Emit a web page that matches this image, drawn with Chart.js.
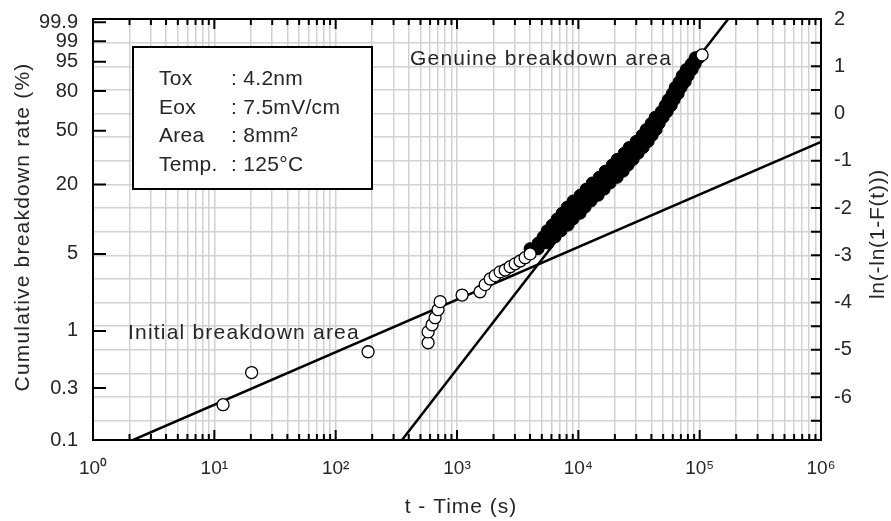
<!DOCTYPE html>
<html>
<head>
<meta charset="utf-8">
<script src="https://cdn.jsdelivr.net/npm/chart.js@4.4.1/dist/chart.umd.min.js"></script>
<style>
  html, body { margin: 0; padding: 0; background: #fff; }
</style>
</head>
<body>
<canvas id="chart" width="891" height="521"></canvas>
<script>
// axis ticks
const xMajorTicks = [1, 10, 100, 1000, 10000, 100000, 1000000];
const xTickLabels = ['10\u2070', '10\u00b9', '10\u00b2', '10\u00b3', '10\u2074', '10\u2075', '10\u2076'];
const leftTickPercents = [0.1, 0.3, 1, 5, 20, 50, 80, 95, 99, 99.9];
const leftTickLabels = ['0.1', '0.3', '1', '5', '20', '50', '80', '95', '99', '99.9'];
const rightTickValues = [-6.5, -6, -5.5, -5, -4.5, -4, -3.5, -3, -2.5, -2, -1.5, -1, -0.5, 0, 0.5, 1, 1.5, 2];

// isolated open circles (time in s, ln(-ln(1-F)))
const sparseTimes = [11.8, 20.3, 185, 578, 578, 623, 660, 698, 726, 1102, 1549, 1706, 1876, 2063, 2266, 2493, 2740, 3013, 3312, 3641, 4005, 104800];
const sparseWeibit = [-6.16, -5.48, -5.04, -4.85, -4.62, -4.47, -4.32, -4.15, -3.98, -3.84, -3.77, -3.62, -3.50, -3.43, -3.35, -3.31, -3.24, -3.18, -3.12, -3.05, -2.97, 1.24];

// dense genuine-breakdown band, read row by row (early / middle / late edge)
const bandWeibit = [-2.86, -2.74, -2.61, -2.48, -2.36, -2.23, -2.11, -1.98, -1.85, -1.73, -1.60, -1.47, -1.35, -1.22, -1.09, -0.97, -0.84, -0.72, -0.59, -0.46, -0.34, -0.21, -0.08, 0.04, 0.17, 0.29, 0.42, 0.55, 0.67, 0.80, 0.93, 1.05, 1.18];
const bandEarlyTimes = [4000, 4665, 5125, 5530, 6080, 6685, 7350, 8085, 9060, 10350, 11600, 13000, 14850, 16630, 18990, 20890, 23860, 26230, 29960, 33570, 36220, 39840, 42970, 48160, 51950, 54990, 59340, 62820, 67760, 71730, 77400, 85100, 91820];
const bandMidTimes = [4320, 5125, 5745, 6315, 7080, 7785, 8720, 9590, 10750, 12280, 13760, 15420, 17610, 19730, 22110, 24310, 27240, 29960, 33570, 36920, 39840, 42970, 46360, 50970, 54990, 58230, 62820, 66500, 71730, 75950, 81930, 88390, 95370];
const bandLateTimes = [4665, 5635, 6435, 7215, 8240, 9060, 10350, 11380, 12750, 14570, 16320, 18290, 20890, 23410, 25740, 28300, 31120, 34210, 37620, 40600, 43800, 46360, 50020, 53960, 58230, 61640, 66500, 70390, 75950, 80390, 86730, 91820, 99060];

// fitted lines
const initialFitTimes = [2.14, 1000000];
const initialFitWeibit = [-6.907, -0.60];
const genuineFitTimes = [352, 171800];
const genuineFitWeibit = [-6.907, 2.0];

// legend box text
const condLabels = ['Tox', 'Eox', 'Area', 'Temp.'];
const condValues = [': 4.2nm', ': 7.5mV/cm', ': 8mm\u00b2', ': 125\u00b0C'];

const FONT = '"Liberation Sans", Arial, sans-serif';
const TEXT = '#262626';
const GRID = '#d2d2d2';

const xTicks = [];
xMajorTicks.forEach((m, i) => {
  xTicks.push(m);
  if (i < xMajorTicks.length - 1) {
    for (let k = 2; k <= 9; k++) xTicks.push(m * k);
  }
});
const leftTickValues = leftTickPercents.map(p => Math.log(-Math.log(1 - p / 100)));

const toPoints = (xs, ys) => xs.map((x, i) => ({ x, y: ys[i] }));

function drawText(ctx, str, x, y, opts) {
  ctx.save();
  ctx.translate(x, y);
  if (opts.rotate) ctx.rotate(opts.rotate);
  ctx.font = opts.font;
  ctx.fillStyle = TEXT;
  ctx.textAlign = opts.align || 'left';
  ctx.textBaseline = opts.baseline || 'alphabetic';
  if ('letterSpacing' in ctx) ctx.letterSpacing = (opts.spacing || 0) + 'px';
  ctx.fillText(str, 0, 0);
  ctx.restore();
}

// no label overflow padding, so the plot box keeps its place
function fixVertical(width) {
  return scale => {
    scale.width = width;
    scale.paddingTop = 0;
    scale.paddingBottom = 0;
  };
}

const overlay = {
  id: 'overlay',
  afterDatasetsDraw(chart) {
    const { ctx, chartArea: a, scales } = chart;
    ctx.save();
    ctx.strokeStyle = '#000';
    ctx.lineWidth = 2;
    ctx.beginPath();
    xTicks.forEach(v => {
      const px = scales.x.getPixelForValue(v);
      const len = xMajorTicks.includes(v) ? 10 : 6;
      ctx.moveTo(px, a.bottom); ctx.lineTo(px, a.bottom - len);
      ctx.moveTo(px, a.top); ctx.lineTo(px, a.top + len);
    });
    leftTickValues.forEach(v => {
      const py = scales.y.getPixelForValue(v);
      ctx.moveTo(a.left, py); ctx.lineTo(a.left + 13, py);
    });
    rightTickValues.forEach(v => {
      const py = scales.yR.getPixelForValue(v);
      ctx.moveTo(a.right, py); ctx.lineTo(a.right - 10, py);
    });
    ctx.stroke();
    ctx.strokeRect(a.left, a.top, a.right - a.left, a.bottom - a.top);

    // conditions box
    ctx.fillStyle = '#fff';
    ctx.fillRect(133, 47, 239, 142);
    ctx.strokeRect(133, 47, 239, 142);
    condLabels.forEach((lab, i) => {
      const base = 85 + i * 28.6;
      drawText(ctx, lab, 159, base, { font: '21px ' + FONT, spacing: 0.3 });
      drawText(ctx, condValues[i], 231, base, { font: '21px ' + FONT, spacing: 0.3 });
    });

    drawText(ctx, 'Genuine breakdown area', 410, 65, { font: '21px ' + FONT, spacing: 1.2 });
    drawText(ctx, 'Initial breakdown area', 128, 339, { font: '21px ' + FONT, spacing: 1.2 });

    // axis titles
    drawText(ctx, 'Cumulative breakdown rate (%)', 23, 227,
      { font: '21px ' + FONT, spacing: 1.2, rotate: -Math.PI / 2, align: 'center', baseline: 'middle' });
    drawText(ctx, 'ln(-ln(1-F(t)))', 878, 234,
      { font: '21px ' + FONT, spacing: 0.75, rotate: -Math.PI / 2, align: 'center', baseline: 'middle' });
    drawText(ctx, 't - Time (s)', 461, 507,
      { font: '21px ' + FONT, spacing: 1, align: 'center', baseline: 'middle' });
    ctx.restore();
  }
};

const bandPoints = [
  ...toPoints(bandEarlyTimes, bandWeibit),
  ...toPoints(bandMidTimes, bandWeibit),
  ...toPoints(bandLateTimes, bandWeibit),
];

new Chart(document.getElementById('chart'), {
  type: 'scatter',
  data: {
    datasets: [
      {
        label: 'Initial fit',
        data: toPoints(initialFitTimes, initialFitWeibit),
        showLine: true, borderColor: '#000', borderWidth: 2.5, pointRadius: 0,
        xAxisID: 'x', yAxisID: 'yR', order: 3,
      },
      {
        label: 'Genuine fit',
        data: toPoints(genuineFitTimes, genuineFitWeibit),
        showLine: true, borderColor: '#000', borderWidth: 2.5, pointRadius: 0,
        xAxisID: 'x', yAxisID: 'yR', order: 3,
      },
      {
        label: 'Genuine breakdown',
        data: bandPoints,
        pointRadius: 6, pointBackgroundColor: '#000', pointBorderColor: '#000', pointBorderWidth: 1,
        xAxisID: 'x', yAxisID: 'yR', order: 2,
      },
      {
        label: 'Samples',
        data: toPoints(sparseTimes, sparseWeibit),
        pointRadius: 6, pointBackgroundColor: '#fff', pointBorderColor: '#000', pointBorderWidth: 1.3,
        xAxisID: 'x', yAxisID: 'yR', order: 1,
      },
    ],
  },
  options: {
    responsive: false,
    animation: false,
    devicePixelRatio: 1,
    events: [],
    layout: { padding: { top: 19, left: 0, right: 0, bottom: 0 } },
    plugins: { legend: { display: false }, tooltip: { enabled: false } },
    scales: {
      x: {
        type: 'logarithmic',
        position: 'bottom',
        min: 1,
        max: 1000000,
        afterBuildTicks: scale => { scale.ticks = xTicks.map(v => ({ value: v })); },
        afterFit: scale => { scale.height = 81; scale.paddingLeft = 0; scale.paddingRight = 0; },
        grid: { color: GRID, lineWidth: 1.5, drawTicks: false },
        border: { display: false },
        ticks: {
          autoSkip: false, maxRotation: 0, minRotation: 0, padding: 17,
          color: TEXT, font: { family: FONT, size: 19 },
          callback: v => {
            const i = xMajorTicks.indexOf(v);
            return i >= 0 ? xTickLabels[i] : '';
          },
        },
      },
      y: {
        type: 'linear',
        axis: 'y',
        position: 'left',
        min: -6.907,
        max: 2,
        bounds: 'data',
        afterBuildTicks: scale => { scale.ticks = leftTickValues.map(v => ({ value: v })); },
        afterFit: fixVertical(93),
        grid: { display: false, drawTicks: false },
        border: { display: false },
        ticks: {
          autoSkip: false, padding: 15, color: TEXT, font: { family: FONT, size: 20 },
          callback: (v, i) => leftTickLabels[i],
        },
      },
      yR: {
        type: 'linear',
        axis: 'y',
        position: 'right',
        min: -6.907,
        max: 2,
        bounds: 'data',
        afterBuildTicks: scale => { scale.ticks = rightTickValues.map(v => ({ value: v })); },
        afterFit: fixVertical(70),
        grid: { color: GRID, lineWidth: 1.5, drawTicks: false },
        border: { display: false },
        ticks: {
          autoSkip: false, padding: 13, color: TEXT, font: { family: FONT, size: 20 },
          callback: v => (Number.isInteger(v) ? String(v) : ''),
        },
      },
    },
  },
  plugins: [overlay],
});
</script>
</body>
</html>
